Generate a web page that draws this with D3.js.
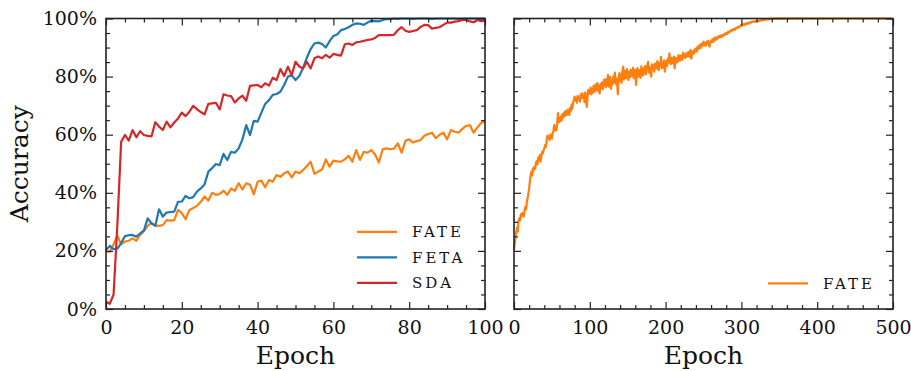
<!DOCTYPE html>
<html lang="en">
<head>
<meta charset="UTF-8">
<script src="https://d3js.org/d3.v7.min.js"></script>
<title>Accuracy vs Epoch</title>
<style>
  body { margin: 0; background: #fff; }
  svg text { font-family: "DejaVu Serif", "Liberation Serif", serif; fill: #111; }
</style>
</head>
<body>
<svg id="chart" width="911" height="371"></svg>
<script>
// left panel: accuracy (%) per epoch 0..100
const fateLeft = [
  19.7, 19.7, 22.3, 25.2, 22.3, 23.2, 23.5, 24.3, 23.5, 25.5,
  26.8, 28.6, 29.7, 28.8, 28.6, 28.9, 30.6, 30.4, 30.6, 34.1,
  33.0, 30.9, 34.1, 34.8, 35.5, 36.9, 38.7, 37.3, 40.0, 39.3,
  39.6, 40.7, 39.3, 41.5, 40.7, 43.3, 41.2, 43.3, 42.8, 39.5,
  43.8, 44.2, 41.9, 44.4, 43.8, 46.1, 45.5, 46.7, 47.3, 45.3,
  47.3, 46.7, 47.8, 49.2, 50.7, 46.5, 47.3, 48.0, 51.5, 49.0,
  51.1, 50.8, 50.7, 51.5, 52.7, 50.7, 54.7, 51.3, 54.1, 53.8,
  54.7, 53.2, 50.4, 55.0, 55.3, 55.0, 55.2, 57.0, 53.8, 57.9,
  58.4, 57.3, 57.8, 58.2, 59.6, 60.2, 60.7, 58.8, 60.0, 60.7,
  58.4, 61.6, 61.0, 60.7, 62.0, 63.0, 63.3, 60.7, 62.5, 64.1,
  64.5
];
const feta = [
  20.3, 21.7, 20.6, 20.8, 22.6, 25.1, 25.4, 25.5, 24.9, 26.0,
  27.0, 31.2, 29.5, 28.6, 34.3, 31.8, 33.2, 33.4, 33.5, 36.9,
  37.0, 38.9, 38.1, 38.5, 40.4, 41.5, 42.9, 47.3, 48.5, 49.9,
  49.5, 53.4, 51.3, 54.1, 53.8, 55.3, 58.4, 63.3, 59.9, 64.8,
  64.5, 67.6, 70.6, 71.9, 73.7, 74.0, 74.8, 77.1, 80.0, 80.5,
  78.8, 80.2, 83.0, 86.5, 89.5, 91.4, 91.7, 91.2, 90.0, 92.2,
  94.0, 94.5, 96.0, 96.4, 97.0, 97.8, 98.3, 98.2, 97.8, 98.6,
  99.2, 99.1, 99.0, 99.5, 99.8, 99.8, 100, 99.9, 100, 100,
  100, 99.9, 100, 100, 100, 100, 99.9, 100, 100, 100,
  100, 100, 100, 99.9, 100, 100, 100, 100, 100, 100,
  100
];
const sda = [
  2.5, 1.8, 5.0, 29.0, 57.6, 59.9, 58.0, 61.6, 59.1, 61.2,
  59.9, 59.6, 59.4, 64.3, 62.8, 61.6, 64.5, 62.5, 64.2, 65.6,
  67.6, 66.4, 67.9, 69.9, 68.8, 67.8, 67.0, 70.6, 70.8, 71.0,
  68.7, 73.9, 73.5, 73.3, 71.1, 72.5, 73.4, 71.7, 76.8, 77.0,
  77.1, 76.3, 77.7, 76.9, 79.6, 78.8, 82.6, 80.2, 83.4, 80.5,
  85.1, 83.5, 82.8, 85.1, 82.8, 86.3, 86.9, 86.3, 87.5, 86.5,
  87.8, 87.5, 87.2, 91.1, 91.4, 90.9, 91.8, 92.0, 92.3, 92.6,
  92.8, 93.3, 94.3, 94.3, 94.3, 94.3, 94.4, 96.0, 97.0, 95.8,
  95.4, 95.7, 96.0, 97.1, 97.8, 97.7, 96.5, 96.8, 97.0, 97.8,
  98.6, 98.6, 98.9, 99.1, 99.5, 99.5, 99.0, 98.7, 99.5, 99.1,
  99.2
];

// right panel: FATE accuracy (%) per epoch 0..499
const fateRight = [
  20.3, 22.5, 24.8, 26.6, 27.9, 26.6, 30.2, 31.2, 30.4, 32.6, 31.8, 33.0, 32.4, 31.9, 33.8, 35.2, 34.3, 36.9, 38.1, 39.8,
  41.5, 44.0, 46.2, 47.3, 46.0, 48.4, 47.8, 49.0, 48.3, 50.4, 51.0, 49.8, 52.1, 51.3, 53.0, 50.7, 52.4, 54.1, 53.5, 54.6,
  55.3, 56.4, 55.8, 57.6, 59.7, 58.9, 59.4, 58.1, 60.0, 59.2, 58.7, 60.5, 61.2, 63.3, 62.0, 61.4, 61.6, 64.0, 67.4, 64.2,
  65.8, 64.6, 66.3, 65.0, 67.1, 66.0, 67.6, 66.4, 68.2, 67.9, 66.8, 68.6, 67.3, 66.8, 69.2, 68.1, 70.4, 69.0, 71.2, 72.0,
  73.1, 71.8, 72.6, 71.0, 73.4, 72.2, 72.8, 71.4, 73.9, 72.5, 74.2, 72.7, 73.5, 71.2, 74.6, 72.0, 69.6, 73.0, 75.4, 74.1,
  74.8, 76.2, 73.9, 75.7, 74.4, 76.9, 76.0, 74.8, 77.3, 75.5, 77.8, 75.0, 76.6, 74.2, 77.4, 76.1, 78.0, 75.6, 77.2, 79.0,
  78.3, 76.4, 79.2, 77.0, 80.6, 76.5, 77.7, 79.8, 75.8, 78.6, 77.4, 80.0, 78.2, 81.4, 77.6, 79.3, 78.0, 73.9, 79.6, 81.2,
  78.5, 80.9, 77.8, 81.8, 83.4, 79.0, 82.0, 80.1, 79.4, 82.6, 80.4, 78.9, 81.6, 79.8, 82.3, 81.7, 80.2, 83.0, 79.5, 81.0,
  82.4, 77.1, 80.6, 82.9, 80.0, 81.5, 82.2, 79.6, 83.5, 81.2, 80.3, 82.8, 81.1, 83.6, 80.8, 82.5, 84.0, 85.1, 81.4, 83.2,
  82.0, 80.0, 84.2, 82.5, 83.8, 81.7, 84.5, 83.0, 82.8, 85.3, 83.4, 82.2, 84.8, 83.6, 86.8, 82.9, 84.4, 83.1, 85.6, 81.7,
  84.0, 85.4, 83.7, 86.1, 84.8, 88.0, 85.0, 84.3, 86.5, 85.2, 84.6, 86.9, 82.8, 85.7, 86.4, 84.9, 85.1, 87.4, 86.0, 85.5,
  87.2, 86.2, 85.8, 88.3, 86.7, 87.5, 86.4, 88.0, 87.1, 86.9, 88.5, 87.3, 86.8, 89.2, 86.2, 88.4, 87.8, 89.0, 88.1, 89.4,
  89.7, 88.6, 90.2, 89.4, 90.6, 90.9, 89.8, 91.2, 90.5, 91.6, 92.0, 90.8, 91.5, 90.6, 92.0, 91.4, 92.3, 91.0, 90.3, 91.8,
  92.4, 92.0, 92.8, 91.9, 93.1, 93.5, 92.6, 93.3, 93.0, 93.8, 93.4, 94.0, 93.6, 94.2, 93.7, 94.3, 94.1, 94.6, 94.3, 94.9,
  95.0, 94.6, 95.3, 95.1, 95.6, 95.5, 95.9, 95.7, 96.2, 96.0, 96.4, 96.1, 96.5, 96.8, 96.6, 97.0, 97.2, 96.9, 97.4, 97.6,
  97.8, 97.5, 97.9, 98.1, 97.8, 98.2, 98.0, 98.3, 98.5, 98.2, 98.6, 98.4, 98.8, 98.7, 98.9, 98.9, 99.0, 98.8, 99.1, 99.0,
  99.2, 99.1, 99.3, 99.1, 99.2, 99.4, 99.3, 99.5, 99.4, 99.6, 99.5, 99.7, 99.6, 99.7, 99.7, 99.8, 99.6, 99.8, 99.8, 99.9,
  99.8, 99.9, 99.9, 99.8, 99.9, 100, 99.9, 100, 99.9, 99.9, 100, 99.9, 100, 100, 99.9, 100, 100, 99.9, 100, 100,
  100, 100, 99.9, 100, 100, 100, 100, 99.9, 100, 100, 100, 100, 100, 99.9, 100, 100, 100, 100, 100, 100,
  100, 100, 100, 100, 99.9, 100, 100, 100, 100, 100, 100, 100, 99.9, 100, 100, 100, 100, 100, 100, 100,
  100, 100, 100, 100, 100, 100, 100, 100, 99.9, 100, 100, 100, 100, 100, 100, 100, 100, 100, 100, 100,
  100, 100, 100, 100, 100, 100, 99.9, 100, 100, 100, 100, 100, 100, 100, 100, 100, 100, 100, 100, 100,
  100, 100, 100, 100, 100, 100, 100, 100, 100, 100, 100, 100, 100, 100, 99.9, 100, 100, 100, 100, 100,
  100, 100, 100, 100, 100, 100, 100, 100, 100, 100, 100, 100, 100, 100, 100, 100, 100, 100, 100, 100,
  100, 100, 100, 100, 100, 100, 100, 100, 100, 100, 100, 100, 100, 100, 100, 100, 100, 100, 100, 100
];

const yMajor = [0, 20, 40, 60, 80, 100];
const yMinor = [5, 10, 15, 25, 30, 35, 45, 50, 55, 65, 70, 75, 85, 90, 95];
const xMajorLeft = [0, 20, 40, 60, 80, 100];
const xMinorLeft = [5, 10, 15, 25, 30, 35, 45, 50, 55, 65, 70, 75, 85, 90, 95];
const xMajorRight = [0, 100, 200, 300, 400, 500];
const xMinorRight = [20, 40, 60, 80, 120, 140, 160, 180, 220, 240, 260, 280, 320, 340, 360, 380, 420, 440, 460, 480];

const colors = { FATE: "#ff7f0e", FETA: "#1f77b4", SDA: "#d62728" };
const serif = '"DejaVu Serif", "Liberation Serif", serif';

const svg = d3.select("#chart");
const plotTop = 18.5, plotBottom = 309;
const y = d3.scaleLinear().domain([0, 100]).range([plotBottom, plotTop]);

const xLeft = d3.scaleLinear().domain([0, 100]).range([106, 485]);
const xRight = d3.scaleLinear().domain([0, 500]).range([514, 893]);

function drawAxes(xs, xMajor, xMinor, yLabels) {
  const [x0, x1] = xs.range();
  const g = svg.append("g").attr("color", "#222");

  g.append("g").attr("transform", `translate(0,${plotBottom})`)
    .call(d3.axisBottom(xs).tickValues(xMajor).tickSize(-7).tickPadding(12).tickFormat(d3.format("d")));
  g.append("g").attr("transform", `translate(0,${plotBottom})`)
    .call(d3.axisBottom(xs).tickValues(xMinor).tickSize(-4).tickFormat(""));
  g.append("g").attr("transform", `translate(0,${plotTop})`)
    .call(d3.axisTop(xs).tickValues(xMajor).tickSize(-7).tickFormat(""));
  g.append("g").attr("transform", `translate(0,${plotTop})`)
    .call(d3.axisTop(xs).tickValues(xMinor).tickSize(-4).tickFormat(""));

  g.append("g").attr("transform", `translate(${x0},0)`)
    .call(d3.axisLeft(y).tickValues(yMajor).tickSize(-7).tickPadding(9)
      .tickFormat(yLabels ? d => d + "%" : ""));
  g.append("g").attr("transform", `translate(${x0},0)`)
    .call(d3.axisLeft(y).tickValues(yMinor).tickSize(-4).tickFormat(""));
  g.append("g").attr("transform", `translate(${x1},0)`)
    .call(d3.axisRight(y).tickValues(yMajor).tickSize(-7).tickFormat(""));
  g.append("g").attr("transform", `translate(${x1},0)`)
    .call(d3.axisRight(y).tickValues(yMinor).tickSize(-4).tickFormat(""));

  g.selectAll(".domain").remove();
  g.selectAll(".tick line").attr("stroke-width", 1.2);
  g.selectAll(".tick text")
    .style("font-family", serif)
    .style("font-size", "19px")
    .attr("fill", "#111");

  g.append("rect")
    .attr("x", x0).attr("y", plotTop)
    .attr("width", x1 - x0).attr("height", plotBottom - plotTop)
    .attr("fill", "none").attr("stroke", "#222").attr("stroke-width", 1.6);

  svg.append("text")
    .attr("x", (x0 + x1) / 2).attr("y", 364)
    .attr("text-anchor", "middle")
    .style("font-family", serif)
    .style("font-size", "25px")
    .text("Epoch");
}

function drawLine(xs, values, color) {
  const line = d3.line().x((d, i) => xs(i)).y(d => y(d));
  svg.append("path")
    .datum(values)
    .attr("d", line)
    .attr("fill", "none")
    .attr("stroke", color)
    .attr("stroke-width", 2.2)
    .attr("stroke-linejoin", "round");
}

function drawLegend(xLine, yFirst, names) {
  names.forEach((name, i) => {
    const yy = yFirst + i * 25.5;
    svg.append("line")
      .attr("x1", xLine).attr("x2", xLine + 40)
      .attr("y1", yy).attr("y2", yy)
      .attr("stroke", colors[name]).attr("stroke-width", 2.2);
    svg.append("text")
      .attr("x", xLine + 55).attr("y", yy + 5.5)
      .style("font-family", serif)
      .style("font-size", "15px")
      .style("letter-spacing", "3px")
      .text(name);
  });
}

// left panel
drawLine(xLeft, fateLeft, colors.FATE);
drawLine(xLeft, feta, colors.FETA);
drawLine(xLeft, sda, colors.SDA);
drawAxes(xLeft, xMajorLeft, xMinorLeft, true);
drawLegend(357, 231.8, ["FATE", "FETA", "SDA"]);

// right panel
drawLine(xRight, fateRight, colors.FATE);
drawAxes(xRight, xMajorRight, xMinorRight, false);
drawLegend(768, 283.3, ["FATE"]);

svg.append("text")
  .attr("transform", `translate(28,${(plotTop + plotBottom) / 2}) rotate(-90)`)
  .attr("text-anchor", "middle")
  .style("font-family", serif)
  .style("font-size", "25px")
  .text("Accuracy");
</script>
</body>
</html>
